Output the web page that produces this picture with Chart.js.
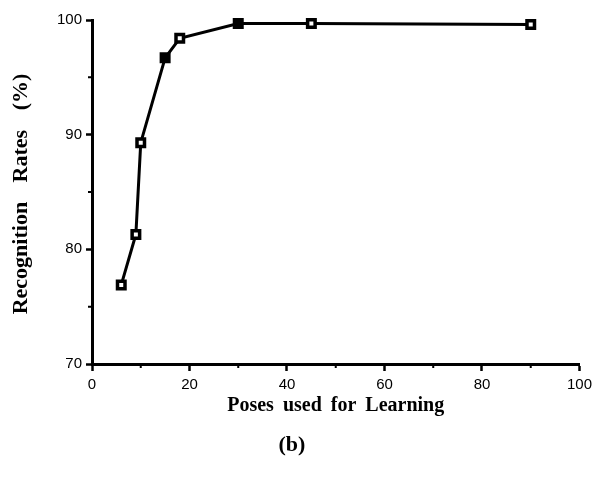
<!DOCTYPE html>
<html>
<head>
<meta charset="utf-8">
<script src="https://cdn.jsdelivr.net/npm/chart.js@4.4.0/dist/chart.umd.min.js"></script>
<style>
  html, body { margin: 0; padding: 0; background: #fff; }
  #wrap { position: relative; width: 597px; height: 478px; }
  #cap { position: absolute; left: 0; width: 584px; top: 431px; text-align: center;
         font: bold 22px "Liberation Serif", "DejaVu Serif", serif; color: #000; }
</style>
</head>
<body>
<div id="wrap">
  <canvas id="c" width="597" height="478"></canvas>
  <div id="cap">(b)</div>
</div>
<script>
// Data
const poses = [6, 9, 10, 15, 18, 30, 45, 90];
const rates = [76.9, 81.3, 89.3, 96.7, 98.4, 99.7, 99.7, 99.6];
const xTicks = [0, 20, 40, 60, 80, 100];
const yTicks = [70, 80, 90, 100];
const xMinor = [10, 30, 50, 70, 90];
const yMinor = [75, 85, 95];
const xTitle = 'Poses used for Learning';
const yTitle = 'Recognition Rates (%)';

const serifBold = '"Liberation Serif", "Times New Roman", serif';

const extras = {
  id: 'extras',
  afterDraw(chart) {
    const ctx = chart.ctx, xs = chart.scales.x, ys = chart.scales.y;
    // minor ticks
    ctx.save();
    ctx.strokeStyle = '#000';
    ctx.lineWidth = 2;
    ctx.beginPath();
    xMinor.forEach(v => {
      const px = xs.getPixelForValue(v);
      ctx.moveTo(px, ys.bottom); ctx.lineTo(px, ys.bottom + 4);
    });
    yMinor.forEach(v => {
      const py = ys.getPixelForValue(v);
      ctx.moveTo(xs.left, py); ctx.lineTo(xs.left - 4, py);
    });
    ctx.stroke();
    // axis titles (spaced like the reference typesetting)
    ctx.fillStyle = '#000';
    ctx.textAlign = 'center';
    ctx.textBaseline = 'middle';
    ctx.font = 'bold 20px ' + serifBold;
    ctx.wordSpacing = '4px';
    ctx.fillText(xTitle, (xs.left + xs.right) / 2, 406);
    ctx.font = 'bold 22px ' + serifBold;
    ctx.wordSpacing = '14px';
    ctx.translate(21, (ys.top + ys.bottom) / 2 + 2);
    ctx.rotate(-Math.PI / 2);
    ctx.fillText(yTitle, 0, 0);
    ctx.restore();
  }
};

const tickFont = { family: '"Liberation Sans", Arial, sans-serif', size: 15 };

new Chart(document.getElementById('c'), {
  type: 'line',
  data: {
    datasets: [{
      data: poses.map((x, i) => ({ x: x, y: rates[i] })),
      borderColor: '#000',
      borderWidth: 3,
      pointStyle: 'rect',
      pointRadius: 5.3,
      pointBorderWidth: 3.5,
      pointBorderColor: '#000',
      pointBackgroundColor: ctx => (ctx.dataIndex === 3 || ctx.dataIndex === 5) ? '#000' : '#fff',
      tension: 0,
      clip: false
    }]
  },
  options: {
    responsive: false,
    animation: false,
    devicePixelRatio: 1,
    layout: { padding: { left: 0, top: 20, right: 16, bottom: 58 } },
    plugins: { legend: { display: false }, tooltip: { enabled: false } },
    scales: {
      x: {
        type: 'linear', min: 0, max: 100,
        afterBuildTicks: s => { s.ticks = xTicks.map(v => ({ value: v })); },
        afterFit: s => { s.height = 56; },
        grid: { drawOnChartArea: false, tickLength: 7, tickWidth: 2.5, tickColor: '#000' },
        border: { color: '#000', width: 3 },
        ticks: { color: '#000', font: tickFont, padding: 5, maxRotation: 0 }
      },
      y: {
        type: 'linear', min: 70, max: 100,
        afterBuildTicks: s => { s.ticks = yTicks.map(v => ({ value: v })); },
        afterFit: s => { s.width = 92; },
        grid: { drawOnChartArea: false, tickLength: 6, tickWidth: 2.5, tickColor: '#000' },
        border: { color: '#000', width: 3 },
        ticks: { color: '#000', font: tickFont, padding: 4 }
      }
    }
  },
  plugins: [extras]
});
</script>
</body>
</html>
